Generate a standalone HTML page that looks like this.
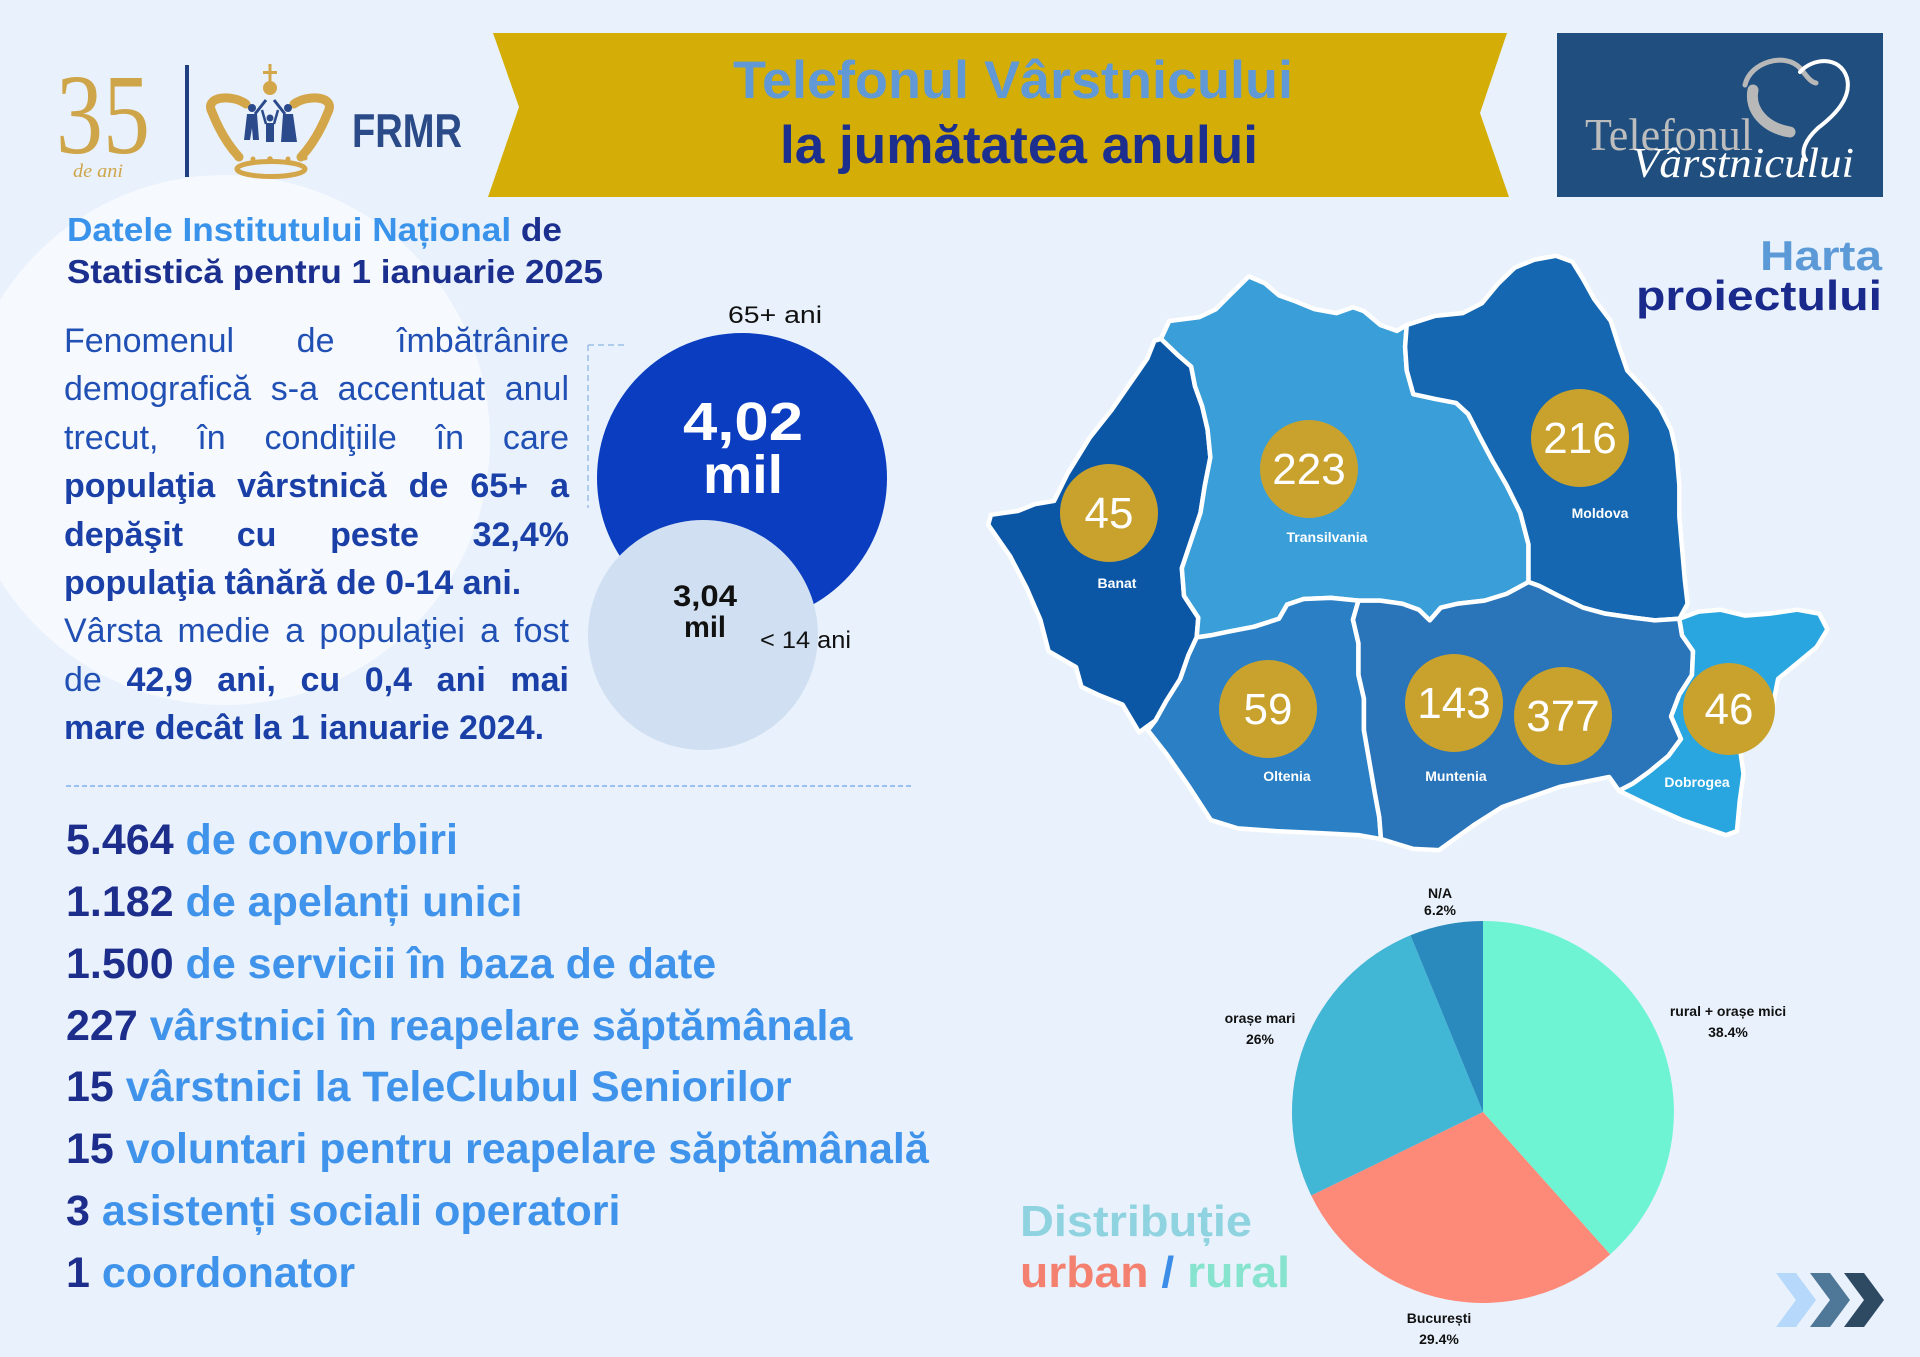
<!DOCTYPE html>
<html><head><meta charset="utf-8">
<style>
html,body{margin:0;padding:0;}
body{width:1920px;height:1357px;position:relative;overflow:hidden;background:#e9f2fc;font-family:"Liberation Sans",sans-serif;}
svg{position:absolute;left:0;top:0;}
.para{position:absolute;left:64px;top:317px;width:505px;font-size:34px;line-height:48.4px;color:#2150b5;font-family:"Liberation Sans",sans-serif;}
.para div{text-align:justify;text-align-last:justify;height:48.4px;white-space:normal;}
.para div.l{text-align:left;text-align-last:left;}
.para b{color:#1a40a8;}
</style></head><body>
<svg width="1920" height="1357" viewBox="0 0 1920 1357" xmlns="http://www.w3.org/2000/svg" font-family="Liberation Sans, sans-serif">
<rect width="1920" height="1357" fill="#e9f2fc"/>
<circle cx="225" cy="440" r="265" fill="#f6f9fe"/>

<!-- 35 logo -->
<text x="56" y="153" font-family="Liberation Serif, serif" font-size="114" fill="#cfa54a" textLength="94" lengthAdjust="spacingAndGlyphs">35</text>
<text x="73" y="177" font-family="Liberation Serif, serif" font-style="italic" font-size="19" fill="#cfa54a" textLength="50" lengthAdjust="spacingAndGlyphs">de ani</text>
<rect x="185" y="65" width="4" height="112" fill="#1f3f80"/>

<!-- crown -->
<g fill="none" stroke="#d4a64a" stroke-linecap="round">
 <path d="M246 104 C232 94 204 96 212 112 C219 130 228 145 239 157" stroke-width="9"/>
 <path d="M294 104 C308 94 336 96 328 112 C321 130 312 145 301 157" stroke-width="9"/>
 <ellipse cx="271" cy="169" rx="34" ry="7.5" stroke-width="5"/>
</g>
<g fill="#d4a64a">
 <circle cx="270" cy="88" r="7"/>
 <rect x="268.5" y="64" width="3" height="20"/>
 <rect x="263" y="71" width="14" height="3"/>
 <circle cx="237" cy="158" r="2.5"/><circle cx="253" cy="159" r="2.5"/><circle cx="270" cy="159" r="2.8"/><circle cx="288" cy="159" r="2.5"/><circle cx="305" cy="158" r="2.5"/>
</g>
<g fill="#2b4a8c" stroke="#2b4a8c">
 <circle cx="252" cy="108" r="4" stroke="none"/>
 <polygon points="247,114 257,114 259,140 253,140 252,128 250,140 244,140" stroke="none"/>
 <line x1="255" y1="114" x2="266" y2="100" stroke-width="3"/>
 <circle cx="270" cy="118" r="3.5" stroke="none"/>
 <rect x="266" y="123" width="8" height="19" stroke="none"/>
 <line x1="266" y1="124" x2="262" y2="110" stroke-width="2.5"/>
 <line x1="274" y1="124" x2="278" y2="110" stroke-width="2.5"/>
 <circle cx="288" cy="108" r="4" stroke="none"/>
 <polygon points="283,114 293,114 297,142 281,142" stroke="none"/>
 <line x1="285" y1="114" x2="274" y2="100" stroke-width="3"/>
</g>
<text x="352" y="147" font-size="47" font-weight="bold" fill="#2b4a88" textLength="110" lengthAdjust="spacingAndGlyphs">FRMR</text>

<!-- banner -->
<polygon points="493,33 1507,33 1480,113 1509,197 488,197 519,107" fill="#d4ae06"/>
<text x="733" y="98" font-size="53" font-weight="bold" fill="#6199d6" textLength="560" lengthAdjust="spacingAndGlyphs">Telefonul Vârstnicului</text>
<text x="780" y="163" font-size="53" font-weight="bold" fill="#1c2f8e" textLength="478" lengthAdjust="spacingAndGlyphs">la jumătatea anului</text>

<!-- right logo -->
<rect x="1557" y="33" width="326" height="164" fill="#1f4e7f"/>
<path d="M1745 85 C1750 62 1785 52 1800 68 C1806 75 1810 82 1816 83" stroke="#b8b8b8" stroke-width="5" fill="none" stroke-linecap="round"/>
<path d="M1753 90 C1749 110 1765 128 1790 132" stroke="#b8b8b8" stroke-width="11" fill="none" stroke-linecap="round"/>
<path d="M1800 72 C1812 58 1840 55 1847 78 C1852 98 1835 115 1818 128 C1805 140 1800 152 1806 160" stroke="#ffffff" stroke-width="4" fill="none" stroke-linecap="round"/>
<text x="1585" y="150" font-family="Liberation Serif, serif" font-size="46" fill="#bdbdbd" textLength="168" lengthAdjust="spacingAndGlyphs">Telefonul</text>
<text x="1632" y="177" font-family="Liberation Serif, serif" font-style="italic" font-size="42" fill="#ffffff" textLength="222" lengthAdjust="spacingAndGlyphs">Vârstnicului</text>

<!-- Harta proiectului -->
<text x="1760" y="270" font-size="42" font-weight="bold" fill="#5b9ad6" textLength="122" lengthAdjust="spacingAndGlyphs">Harta</text>
<text x="1636" y="310" font-size="42" font-weight="bold" fill="#1a2a8c" textLength="246" lengthAdjust="spacingAndGlyphs">proiectului</text>

<!-- heading -->
<text x="67" y="241" font-size="33" font-weight="bold" textLength="495" lengthAdjust="spacingAndGlyphs"><tspan fill="#3a93ea">Datele Institutului Național</tspan><tspan fill="#1b2f8f"> de</tspan></text>
<text x="67" y="283" font-size="33" font-weight="bold" fill="#1b2f8f" textLength="536" lengthAdjust="spacingAndGlyphs">Statistică pentru 1 ianuarie 2025</text>

<!-- dashed lines -->
<line x1="588" y1="345" x2="588" y2="508" stroke="#9dbfe8" stroke-width="1.5" stroke-dasharray="6,4"/>
<line x1="588" y1="345" x2="627" y2="345" stroke="#9dbfe8" stroke-width="1.5" stroke-dasharray="6,4"/>
<line x1="66" y1="786" x2="911" y2="786" stroke="#7fb0ec" stroke-width="1.5" stroke-dasharray="5,3"/>

<!-- bubbles -->
<circle cx="742" cy="478" r="145" fill="#0a3dbf"/>
<circle cx="703" cy="635" r="115" fill="#d0dff1"/>
<text x="728" y="323" font-size="24" fill="#111" textLength="94" lengthAdjust="spacingAndGlyphs">65+ ani</text>
<text x="683" y="440" font-size="54" font-weight="bold" fill="#fff" textLength="120" lengthAdjust="spacingAndGlyphs">4,02</text>
<text x="703" y="493" font-size="54" font-weight="bold" fill="#fff" textLength="80" lengthAdjust="spacingAndGlyphs">mil</text>
<text x="673" y="606" font-size="30" font-weight="bold" fill="#111" textLength="64" lengthAdjust="spacingAndGlyphs">3,04</text>
<text x="684" y="637" font-size="30" font-weight="bold" fill="#111" textLength="42" lengthAdjust="spacingAndGlyphs">mil</text>
<text x="760" y="648" font-size="24" fill="#111" textLength="91" lengthAdjust="spacingAndGlyphs">&lt; 14 ani</text>

<!-- stats -->
<g font-size="43" font-weight="bold" fill="#3f93ea">
<text x="66" y="854"><tspan fill="#1c2d8c">5.464</tspan> de convorbiri</text>
<text x="66" y="916"><tspan fill="#1c2d8c">1.182</tspan> de apelanți unici</text>
<text x="66" y="978"><tspan fill="#1c2d8c">1.500</tspan> de servicii în baza de date</text>
<text x="66" y="1040"><tspan fill="#1c2d8c">227</tspan> vârstnici în reapelare săptămânala</text>
<text x="66" y="1101"><tspan fill="#1c2d8c">15</tspan> vârstnici la TeleClubul Seniorilor</text>
<text x="66" y="1163"><tspan fill="#1c2d8c">15</tspan> voluntari pentru reapelare săptămânală</text>
<text x="66" y="1225"><tspan fill="#1c2d8c">3</tspan> asistenți sociali operatori</text>
<text x="66" y="1287"><tspan fill="#1c2d8c">1</tspan> coordonator</text>
</g>

<!-- map -->
<g transform="translate(980,240) scale(0.5485,0.3954)" stroke="#ffffff" stroke-width="4.5" stroke-linejoin="round">
<polygon vector-effect="non-scaling-stroke" fill="#0b57a6" points="320,1215 290,1245 260,1175 215,1150 185,1130 175,1080 125,1040 110,960 85,880 55,800 35,760 15,720 20,695 70,685 100,668 135,660 160,590 200,500 240,430 275,360 305,300 318,255 330,250 360,290 385,320 392,370 405,420 415,480 420,550 410,620 402,690 385,760 368,830 372,900 398,955 395,1005 380,1050 365,1110 340,1165"/>
<polygon vector-effect="non-scaling-stroke" fill="#3a9ed8" points="330,250 345,205 400,195 430,175 455,140 490,92 520,110 545,140 575,155 610,175 650,185 680,170 700,180 730,215 760,230 778,215 775,270 778,330 790,390 830,402 868,412 890,440 912,500 935,560 960,620 985,690 1000,770 1000,830 1000,865 960,895 920,912 870,920 840,930 820,962 800,935 770,920 730,912 690,912 640,905 590,908 560,922 545,958 500,978 455,990 420,1000 395,1005 398,955 372,900 368,830 385,760 402,690 410,620 420,550 415,480 405,420 392,370 385,320 360,290"/>
<polygon vector-effect="non-scaling-stroke" fill="#1467b0" points="778,215 830,192 880,185 915,160 945,110 975,70 1010,50 1050,40 1080,55 1100,100 1120,150 1150,205 1165,270 1180,330 1210,375 1240,425 1260,480 1270,540 1275,620 1275,700 1280,780 1285,860 1290,920 1275,958 1230,962 1190,955 1140,945 1100,930 1055,900 1020,875 1000,865 1000,830 1000,770 985,690 960,620 935,560 912,500 890,440 868,412 830,402 790,390 778,330 775,270"/>
<polygon vector-effect="non-scaling-stroke" fill="#2b80c5" points="395,1005 420,1000 455,990 500,978 545,958 560,922 590,908 640,905 690,912 680,960 690,1020 690,1100 700,1160 700,1240 710,1320 720,1400 728,1460 731,1515 690,1505 620,1500 540,1495 470,1488 421,1467 380,1380 340,1300 306,1240 320,1215 340,1165 365,1110 380,1050"/>
<polygon vector-effect="non-scaling-stroke" fill="#2a74b9" points="690,912 730,912 770,920 800,935 820,962 840,930 870,920 920,912 960,895 1000,865 1020,875 1055,900 1100,930 1140,945 1190,955 1230,962 1275,958 1280,1000 1300,1040 1298,1100 1275,1150 1260,1205 1278,1262 1255,1305 1220,1345 1190,1375 1165,1393 1147,1358 1057,1383 952,1434 900,1480 837,1543 790,1540 731,1515 728,1460 720,1400 710,1320 700,1240 700,1160 690,1100 690,1020 680,960"/>
<polygon vector-effect="non-scaling-stroke" fill="#29a6df" points="1275,958 1310,940 1350,935 1395,950 1440,945 1490,935 1530,945 1545,985 1525,1030 1490,1070 1455,1110 1445,1180 1410,1225 1385,1280 1392,1350 1385,1420 1380,1495 1360,1505 1280,1467 1220,1430 1165,1393 1190,1375 1220,1345 1255,1305 1278,1262 1260,1205 1275,1150 1298,1100 1300,1040 1280,1000"/>
</g>
<g fill="#c9a22e">
<circle cx="1109" cy="513" r="49"/>
<circle cx="1309" cy="469" r="49"/>
<circle cx="1580" cy="438" r="49"/>
<circle cx="1268" cy="709" r="49"/>
<circle cx="1454" cy="703" r="49"/>
<circle cx="1563" cy="716" r="49"/>
<circle cx="1729" cy="709" r="46"/>
</g>
<g font-size="44" fill="#ffffff" text-anchor="middle">
<text x="1109" y="528">45</text>
<text x="1309" y="484">223</text>
<text x="1580" y="453">216</text>
<text x="1268" y="724">59</text>
<text x="1454" y="718">143</text>
<text x="1563" y="731">377</text>
<text x="1729" y="724">46</text>
</g>
<g font-size="14" font-weight="bold" fill="#ffffff" text-anchor="middle">
<text x="1117" y="588">Banat</text>
<text x="1327" y="542">Transilvania</text>
<text x="1600" y="518">Moldova</text>
<text x="1287" y="781">Oltenia</text>
<text x="1456" y="781">Muntenia</text>
<text x="1697" y="787">Dobrogea</text>
</g>

<!-- pie -->
<path d="M1483 1112 L1483 921 A191 191 0 0 1 1610.2 1254.4 Z" fill="#6ef4d3"/>
<path d="M1483 1112 L1610.2 1254.4 A191 191 0 0 1 1311.2 1195.5 Z" fill="#fd8a79"/>
<path d="M1483 1112 L1311.2 1195.5 A191 191 0 0 1 1410.5 935.3 Z" fill="#42b6d5"/>
<path d="M1483 1112 L1410.5 935.3 A191 191 0 0 1 1483 921 Z" fill="#2a8abd"/>
<g font-size="14" font-weight="bold" fill="#111" text-anchor="middle">
<text x="1440" y="898">N/A</text>
<text x="1440" y="915">6.2%</text>
<text x="1260" y="1023">orașe mari</text>
<text x="1260" y="1044">26%</text>
<text x="1728" y="1016">rural + orașe mici</text>
<text x="1728" y="1037">38.4%</text>
<text x="1439" y="1323">București</text>
<text x="1439" y="1344">29.4%</text>
</g>

<text x="1020" y="1236" font-size="44" font-weight="bold" fill="#8ed3df" textLength="232" lengthAdjust="spacingAndGlyphs">Distribuție</text>
<text x="1020" y="1287" font-size="44" font-weight="bold" textLength="270" lengthAdjust="spacingAndGlyphs"><tspan fill="#f4806f">urban</tspan><tspan fill="#3b8de8"> / </tspan><tspan fill="#86e3cd">rural</tspan></text>

<!-- chevrons -->
<polygon points="1776,1273 1796,1273 1816,1300 1796,1327 1776,1327 1796,1300" fill="#b5d8fb"/>
<polygon points="1810,1273 1830,1273 1850,1300 1830,1327 1810,1327 1830,1300" fill="#4f7898"/>
<polygon points="1844,1273 1864,1273 1884,1300 1864,1327 1844,1327 1864,1300" fill="#2e4a63"/>
</svg>

<div class="para">
<div>Fenomenul de îmbătrânire</div>
<div>demografică s-a accentuat anul</div>
<div>trecut, în condiţiile în care</div>
<div><b>populaţia vârstnică de 65+ a</b></div>
<div><b>depăşit cu peste 32,4%</b></div>
<div class="l"><b>populaţia tânără de 0-14 ani.</b></div>
<div>Vârsta medie a populaţiei a fost</div>
<div>de <b>42,9 ani, cu 0,4 ani mai</b></div>
<div class="l"><b>mare decât la 1 ianuarie 2024.</b></div>
</div>
</body></html>
